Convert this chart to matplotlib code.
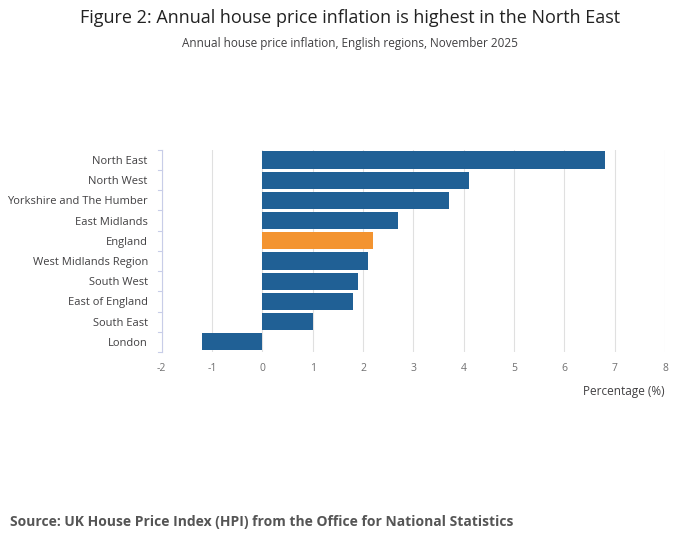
import matplotlib.pyplot as plt
import numpy as np

plt.rcParams['font.family'] = ['Open Sans', 'DejaVu Sans']
plt.rcParams['axes.unicode_minus'] = False

regions = ['North East', 'North West', 'Yorkshire and The Humber', 'East Midlands', 'England',
           'West Midlands Region', 'South West', 'East of England', 'South East', 'London']
values = [6.8, 4.1, 3.7, 2.7, 2.2, 2.1, 1.9, 1.8, 1.0, -1.2]
highlight = 'England'

colors = ['#f39431' if r == highlight else '#206095' for r in regions]

fig = plt.figure(figsize=(7, 5.49), dpi=100)
ax = fig.add_axes([0.231, 0.359, 0.719, 0.368])
y = np.arange(len(regions))
ax.barh(y, values, height=0.85, color=colors, zorder=3)
ax.set_ylim(len(regions) - 0.5, -0.5)
ax.set_xlim(-2, 8)
ax.set_xticks(range(-2, 9))
ax.set_yticks(y)
ax.set_yticklabels(regions)
ax.tick_params(axis='x', labelsize=7.5, colors='#707071', length=0, pad=8)
ax.tick_params(axis='y', labelsize=8, labelcolor='#414042', length=0, pad=10)
ax.grid(axis='x', color='#e0e0e0', lw=0.8, zorder=0)
for s in ['top', 'right', 'bottom']:
    ax.spines[s].set_visible(False)
ax.spines['left'].set_color('#c8cde8')
# small ticks at category boundaries
for b in np.arange(-0.5, len(regions), 1):
    ax.plot([-2.08, -2.0], [b, b], color='#c8cde8', lw=0.8, clip_on=False)
ax.set_xlabel('Percentage (%)', fontsize=8.5, color='#414042', loc='right', labelpad=8)

fig.text(0.5, 0.967, 'Figure 2: Annual house price inflation is highest in the North East',
         ha='center', va='center', fontsize=13, color='#222222')
fig.text(0.5, 0.92, 'Annual house price inflation, English regions, November 2025',
         ha='center', va='center', fontsize=8.5, color='#414042')
fig.text(0.014, 0.049, 'Source: UK House Price Index (HPI) from the Office for National Statistics',
         ha='left', va='center', fontsize=10, fontweight='bold', color='#555555')

fig.savefig('out.png', dpi=100)
